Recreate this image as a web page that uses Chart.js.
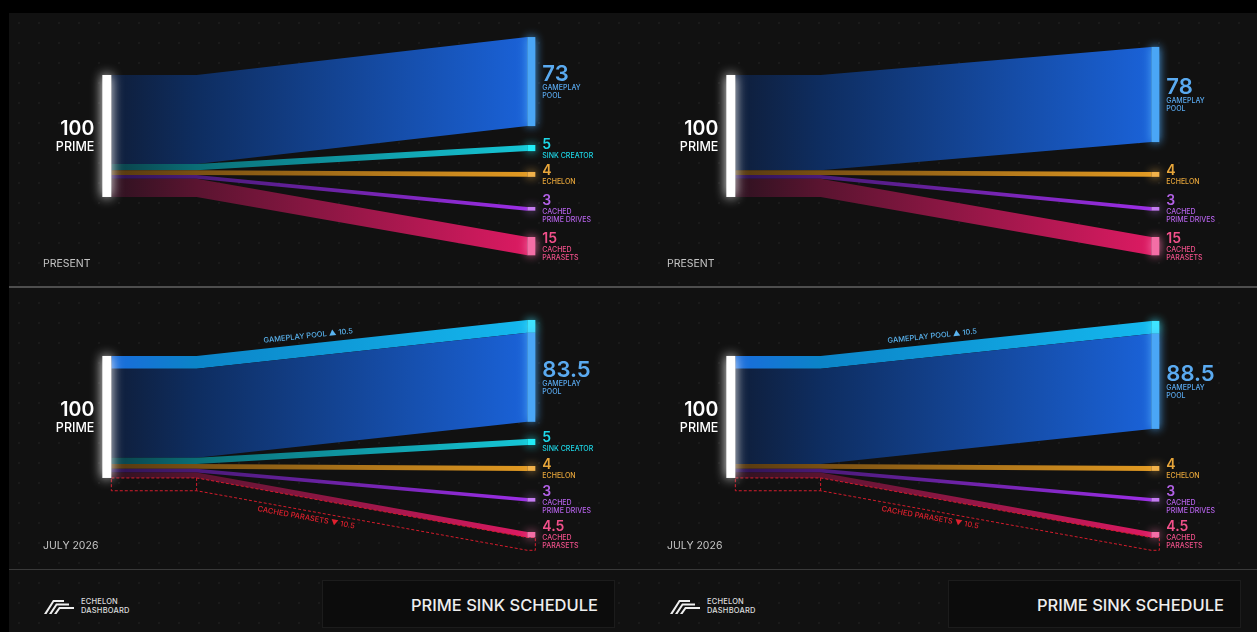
<!DOCTYPE html>
<html lang="en">
<head>
  <meta charset="UTF-8">
  <title>Prime Sink Schedule</title>
  <script src="https://cdn.jsdelivr.net/npm/chart.js@4.4.1/dist/chart.umd.min.js"></script>
  <style>
    html, body { margin: 0; padding: 0; background: #000; }
    body { width: 1257px; height: 632px; position: relative; overflow: hidden; font-family: Inter, Roboto, sans-serif; }
    #board {
      position: absolute; left: 9px; top: 13px; width: 1248px; height: 619px;
      background-color: #111;
      background-image: radial-gradient(#1b1b1b 0.7px, transparent 1px);
      background-size: 20px 20px;
    }
    .panel { position: absolute; }
    .panel canvas { display: block; }
    .divider { position: absolute; left: 0; width: 1248px; }
    .logo { position: absolute; top: 584px; display: flex; align-items: center; }
    .logo span { color: #ddd; font-size: 7.5px; line-height: 9px; font-weight: 500; margin-left: 5px; letter-spacing: 0.2px; }
    .titlebox {
      position: absolute; top: 567px; width: 293px; height: 48px;
      background: #0c0c0c; border: 1px solid #1c1c1c; box-sizing: border-box;
      color: #eee; font-size: 16.5px; font-weight: 500; text-align: right;
      padding-right: 16px; line-height: 48px;
    }
  </style>
</head>
<body>
<div id="board">
  <div class="panel" style="left:0;top:0"><canvas id="tl" width="624" height="274"></canvas></div>
  <div class="panel" style="left:624px;top:0"><canvas id="tr" width="624" height="274"></canvas></div>
  <div class="divider" style="top:273px;height:2px;background:#4e4e4e"></div>
  <div class="panel" style="left:0;top:275px"><canvas id="bl" width="624" height="281"></canvas></div>
  <div class="panel" style="left:624px;top:275px"><canvas id="br" width="624" height="281"></canvas></div>
  <div class="divider" style="top:556px;height:1px;background:#3a3a3a"></div>

  <div class="logo" style="left:35px">
    <svg width="32" height="16" viewBox="0 0 32 16"><g fill="#eee">
      <path d="M0 16 L9 2 L20 2 L20 4 L10 4 L2.5 16 Z"/>
      <path d="M5 16 L12 5.5 L25 5.5 L25 7.5 L13 7.5 L7.5 16 Z"/>
      <path d="M10 16 L15 9 L30 9 L30 11 L16 11 L12.5 16 Z"/>
    </g></svg>
    <span>ECHELON<br>DASHBOARD</span>
  </div>
  <div class="titlebox" style="left:313px">PRIME SINK SCHEDULE</div>

  <div class="logo" style="left:661px">
    <svg width="32" height="16" viewBox="0 0 32 16"><g fill="#eee">
      <path d="M0 16 L9 2 L20 2 L20 4 L10 4 L2.5 16 Z"/>
      <path d="M5 16 L12 5.5 L25 5.5 L25 7.5 L13 7.5 L7.5 16 Z"/>
      <path d="M10 16 L15 9 L30 9 L30 11 L16 11 L12.5 16 Z"/>
    </g></svg>
    <span>ECHELON<br>DASHBOARD</span>
  </div>
  <div class="titlebox" style="left:939px">PRIME SINK SCHEDULE</div>
</div>

<script>
  // DATA
  const categories = ["GAMEPLAY POOL", "SINK CREATOR", "ECHELON", "CACHED PRIME DRIVES", "CACHED PARASETS"];
  const labelLines = [["GAMEPLAY", "POOL"], ["SINK CREATOR"], ["ECHELON"], ["CACHED", "PRIME DRIVES"], ["CACHED", "PARASETS"]];
  const primeTotal = 100;
  const presentWithSink = [73, 5, 4, 3, 15];
  const presentNoSink = [78, 0, 4, 3, 15];
  const julyWithSink = [83.5, 5, 4, 3, 4.5];
  const julyNoSink = [88.5, 0, 4, 3, 4.5];
  const parasetShift = 10.5;   // parasets -> gameplay pool by july
  const periods = ["PRESENT", "JULY 2026"];

  // colours: [left, bend, right], bar, label
  const palette = [
    { flow: ["#0f1e3a", "#0e2d60", "#1a62d8"], bar: "#4aa6f6", text: "#5aaaf0" },
    { flow: ["#0a4048", "#0a6e76", "#16c6d6"], bar: "#22eef8", text: "#1ed8e8" },
    { flow: ["#553810", "#7a5012", "#e29a22"], bar: "#f2b24a", text: "#e8a63a" },
    { flow: ["#2c1450", "#4a1a78", "#9c2ee6"], bar: "#c47cf2", text: "#b462e8" },
    { flow: ["#2e1220", "#5a1430", "#dc1a62"], bar: "#f46ea6", text: "#f0508a" }
  ];
  const gainStyle = { flow: ["#1a6cdc", "#0b84c8", "#14b8ee"], bar: "#3ee4ff", text: "#5ab4f0" };
  const lossColor = "#d41c2c";

  const BEND = 0.205;
  const BAR_W = 8 / 416;
  const SRC_W = 9 / 416;

  function fmt(v) { return Number.isInteger(v) ? String(v) : v.toFixed(1); }

  function bandPath(ctx, x, y, s0, s1, t0, t1) {
    ctx.beginPath();
    ctx.moveTo(x.getPixelForValue(0), y.getPixelForValue(s0));
    ctx.lineTo(x.getPixelForValue(BEND), y.getPixelForValue(s0));
    ctx.lineTo(x.getPixelForValue(1), y.getPixelForValue(t0));
    ctx.lineTo(x.getPixelForValue(1), y.getPixelForValue(t1));
    ctx.lineTo(x.getPixelForValue(BEND), y.getPixelForValue(s1));
    ctx.lineTo(x.getPixelForValue(0), y.getPixelForValue(s1));
    ctx.closePath();
  }

  function fillBand(ctx, x, y, s0, s1, t0, t1, cols) {
    const g = ctx.createLinearGradient(x.getPixelForValue(0), 0, x.getPixelForValue(1), 0);
    g.addColorStop(0, cols[0]);
    g.addColorStop(BEND, cols[1]);
    g.addColorStop(1, cols[2]);
    bandPath(ctx, x, y, s0, s1, t0, t1);
    ctx.fillStyle = g;
    ctx.fill();
  }

  function bar(ctx, x, y, x0, x1, v0, v1, color, blur) {
    const px = x.getPixelForValue(x0), pw = x.getPixelForValue(x1) - px;
    const py = y.getPixelForValue(v0), ph = y.getPixelForValue(v1) - py;
    ctx.save();
    ctx.shadowColor = color;
    ctx.shadowBlur = blur;
    ctx.fillStyle = color;
    ctx.fillRect(px, py, pw, ph);
    ctx.restore();
  }

  function slopeText(ctx, p1, p2, t, offset, text, color) {
    const cx = p1.x + (p2.x - p1.x) * t, cy = p1.y + (p2.y - p1.y) * t;
    ctx.save();
    ctx.translate(cx, cy);
    ctx.rotate(Math.atan2(p2.y - p1.y, p2.x - p1.x));
    ctx.fillStyle = color;
    ctx.font = "500 7.5px Inter, Roboto, sans-serif";
    ctx.textAlign = "center";
    ctx.textBaseline = "middle";
    ctx.fillText(text, 0, offset);
    ctx.restore();
  }

  const sankeyPlugin = {
    id: "sankey",
    afterDatasetsDraw(chart, args, opts) {
      const ctx = chart.ctx, x = chart.scales.x, y = chart.scales.y;
      const vals = opts.values, tops = opts.tops, shift = opts.shift;
      const xT = x.getPixelForValue(1 + BAR_W);

      // flows
      let cur = 0;
      if (shift > 0) {
        fillBand(ctx, x, y, 0, shift, tops[0], tops[0] + shift, gainStyle.flow);
        cur = shift;
      }
      vals.forEach((v, i) => {
        let base = v;
        let tStart = tops[i];
        if (i === 0) { base = v - shift; tStart = tops[0] + shift; }
        if (base <= 0) return;
        fillBand(ctx, x, y, cur, cur + base, tStart, tStart + base, palette[i].flow);
        cur += base;
      });

      // removed parasets, dashed outline
      if (shift > 0) {
        const t4 = tops[4] + vals[4];
        ctx.save();
        ctx.strokeStyle = lossColor;
        ctx.lineWidth = 1;
        ctx.setLineDash([3, 2]);
        ctx.beginPath();
        ctx.moveTo(x.getPixelForValue(0), y.getPixelForValue(primeTotal));
        ctx.lineTo(x.getPixelForValue(BEND), y.getPixelForValue(primeTotal));
        ctx.lineTo(x.getPixelForValue(1), y.getPixelForValue(t4));
        ctx.lineTo(xT, y.getPixelForValue(t4));
        ctx.lineTo(xT, y.getPixelForValue(t4 + shift));
        ctx.lineTo(x.getPixelForValue(1), y.getPixelForValue(t4 + shift));
        ctx.lineTo(x.getPixelForValue(BEND), y.getPixelForValue(primeTotal + shift));
        ctx.lineTo(x.getPixelForValue(0), y.getPixelForValue(primeTotal + shift));
        ctx.closePath();
        ctx.stroke();
        ctx.beginPath();
        ctx.moveTo(x.getPixelForValue(BEND), y.getPixelForValue(primeTotal));
        ctx.lineTo(x.getPixelForValue(BEND), y.getPixelForValue(primeTotal + shift));
        ctx.stroke();
        ctx.restore();

        // delta captions along the slopes
        const gp1 = { x: x.getPixelForValue(BEND), y: y.getPixelForValue(0) };
        const gp2 = { x: x.getPixelForValue(1), y: y.getPixelForValue(tops[0]) };
        slopeText(ctx, gp1, gp2, 0.34, -8, categories[0] + " \u25B2 " + fmt(shift), gainStyle.text);
        const lp1 = { x: x.getPixelForValue(BEND), y: y.getPixelForValue(primeTotal + shift) };
        const lp2 = { x: x.getPixelForValue(1), y: y.getPixelForValue(t4 + shift) };
        slopeText(ctx, lp1, lp2, 0.335, 7, categories[4] + " \u25BC " + fmt(shift), "#e0202e");
      }

      // target bars + labels
      vals.forEach((v, i) => {
        if (v <= 0) return;
        let lblTop = tops[i], lblBot = tops[i] + v;
        if (i === 0 && shift > 0) {
          bar(ctx, x, y, 1, 1 + BAR_W, tops[0], tops[0] + shift, gainStyle.bar, 10);
          bar(ctx, x, y, 1, 1 + BAR_W, tops[0] + shift, tops[0] + v, palette[0].bar, 10);
          lblTop = tops[0] + shift;
        } else {
          bar(ctx, x, y, 1, 1 + BAR_W, tops[i], tops[i] + v, palette[i].bar, 10);
        }
        const centre = (y.getPixelForValue(lblTop) + y.getPixelForValue(lblBot)) / 2;
        const big = i === 0;
        const numCap = big ? 16 : 10;
        const gap = 4;
        const lines = labelLines[i];
        const blockH = numCap + gap + 5 + (lines.length - 1) * 8;
        const top = centre - blockH / 2;
        const lx = xT + 7;
        ctx.fillStyle = palette[i].text;
        ctx.textAlign = "left";
        ctx.textBaseline = "alphabetic";
        ctx.font = (big ? "600 22px " : "600 14px ") + "Inter, Roboto, sans-serif";
        ctx.fillText(fmt(v), lx, top + numCap);
        ctx.font = "500 7px Inter, Roboto, sans-serif";
        lines.forEach((ln, k) => ctx.fillText(ln, lx, top + numCap + gap + 5 + k * 8));
      });

      // source node
      bar(ctx, x, y, -SRC_W, 0, 0, primeTotal, "#ffffff", 12);
      const sc = (y.getPixelForValue(0) + y.getPixelForValue(primeTotal)) / 2;
      const sx = x.getPixelForValue(-SRC_W) - 8;
      ctx.fillStyle = "#ffffff";
      ctx.textAlign = "right";
      ctx.textBaseline = "alphabetic";
      ctx.font = "600 19.5px Inter, Roboto, sans-serif";
      ctx.fillText(String(primeTotal), sx, sc - 0.5);
      ctx.font = "500 12.5px Inter, Roboto, sans-serif";
      ctx.fillText("PRIME", sx, sc + 15);

      // period caption
      ctx.fillStyle = "#c4c4c4";
      ctx.textAlign = "left";
      ctx.font = "400 10.5px Inter, Roboto, sans-serif";
      ctx.fillText(opts.period, 34, chart.height - 20);
    }
  };

  // layout: target node tops (in value units, 0 = top of the source bar)
  const panels = [
    { id: "tl", values: presentWithSink, shift: 0, period: periods[0], yMin: -50.8, tops: [-31.1, 57.4, 79.5, 108.2, 132.8] },
    { id: "tr", values: presentNoSink, shift: 0, period: periods[0], yMin: -50.8, tops: [-23.0, 0, 79.5, 108.2, 132.8] },
    { id: "bl", values: julyWithSink, shift: parasetShift, period: periods[1], yMin: -55.7, tops: [-29.5, 68.0, 90.2, 116.4, 144.3] },
    { id: "br", values: julyNoSink, shift: parasetShift, period: periods[1], yMin: -55.7, tops: [-28.7, 0, 90.2, 116.4, 144.3] }
  ];

  panels.forEach(p => {
    const cv = document.getElementById(p.id);
    new Chart(cv, {
      type: "scatter",
      data: { datasets: [{ data: [] }] },
      plugins: [sankeyPlugin],
      options: {
        responsive: false,
        animation: false,
        devicePixelRatio: 1,
        events: [],
        layout: { padding: 0 },
        scales: {
          x: { type: "linear", display: false, min: -0.246, max: 1.254 },
          y: { type: "linear", display: false, reverse: true, min: p.yMin, max: p.yMin + cv.height / 1.22 }
        },
        plugins: {
          legend: { display: false },
          tooltip: { enabled: false },
          sankey: { values: p.values, shift: p.shift, tops: p.tops, period: p.period }
        }
      }
    });
  });
</script>
</body>
</html>
